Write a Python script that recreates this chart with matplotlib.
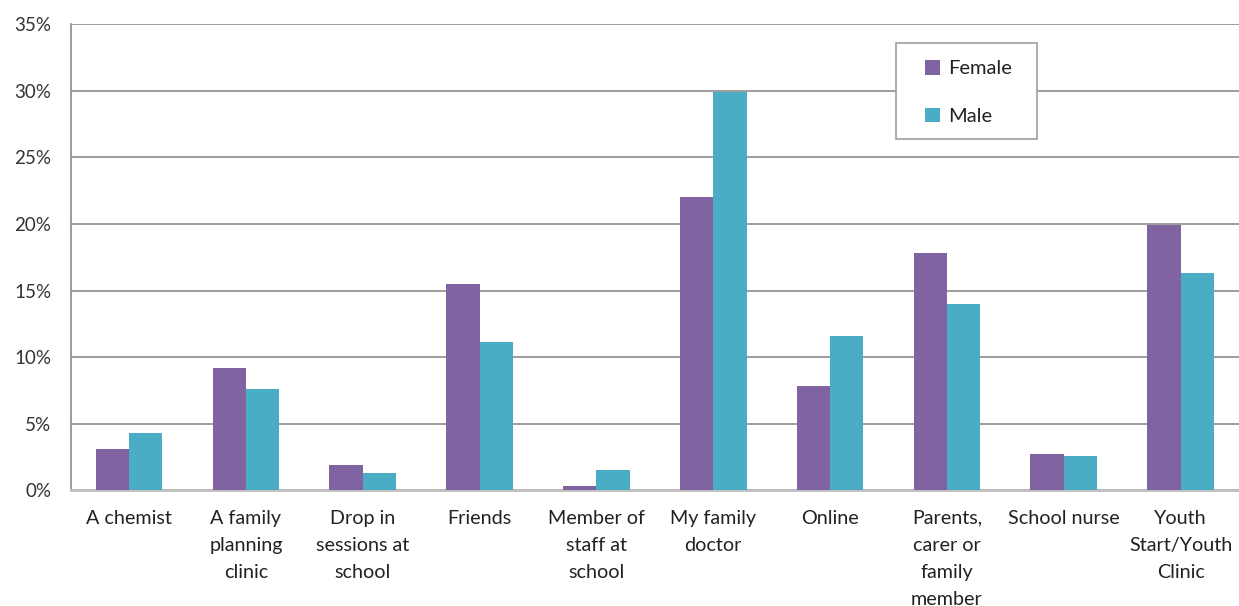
import matplotlib
matplotlib.use("Agg")
import matplotlib.pyplot as plt
import numpy as np
from matplotlib.patches import Rectangle
from matplotlib.ticker import FuncFormatter, MultipleLocator

plt.rcParams['font.family'] = ['Lato', 'DejaVu Sans']

categories = [
    "A chemist",
    "A family\nplanning\nclinic",
    "Drop in\nsessions at\nschool",
    "Friends",
    "Member of\nstaff at\nschool",
    "My family\ndoctor",
    "Online",
    "Parents,\ncarer or\nfamily\nmember",
    "School nurse",
    "Youth\nStart/Youth\nClinic",
]
female = [3.1, 9.2, 1.9, 15.5, 0.35, 22.0, 7.8, 17.8, 2.7, 19.9]
male = [4.3, 7.6, 1.3, 11.1, 1.5, 29.9, 11.6, 14.0, 2.6, 16.3]

FEMALE_COLOR = "#8064A2"
MALE_COLOR = "#4BACC6"

W, H = 1239, 606
fig = plt.figure(figsize=(W / 100, H / 100), dpi=100)
ax = fig.add_axes([0.057, 0.191, 0.943, 0.769])

x = np.arange(len(categories))
w = 0.285
ax.bar(x - w / 2, female, width=w, color=FEMALE_COLOR, label="Female", zorder=3)
ax.bar(x + w / 2, male, width=w, color=MALE_COLOR, label="Male", zorder=3)

ax.set_xlim(-0.5, len(categories) - 0.5)
ax.set_ylim(0, 35)
ax.yaxis.set_major_locator(MultipleLocator(5))
ax.yaxis.set_major_formatter(FuncFormatter(lambda v, p: f"{v:.0f}%"))
ax.grid(axis="y", color="#8C8C8C", linewidth=1.2, zorder=0)
ax.set_axisbelow(True)

ax.set_xticks(x)
ax.set_xticklabels(categories, linespacing=1.72, va="top")
ax.tick_params(axis="x", length=0, pad=14, labelsize=14.2, colors="#222222")
ax.tick_params(axis="y", length=0, pad=14, labelsize=13.5, colors="#333333")

for side in ("top", "right"):
    ax.spines[side].set_visible(False)
ax.spines["left"].set_color("#8C8C8C")
ax.spines["left"].set_linewidth(1.2)
ax.spines["bottom"].set_color("#BFBFBF")
ax.spines["bottom"].set_linewidth(2)

# legend frame drawn as a fixed-size box, entries placed inside it
box_l, box_t, box_r, box_b = 896, 43, 1037, 139
frame = Rectangle(
    (box_l / W, 1 - box_b / H), (box_r - box_l) / W, (box_b - box_t) / H,
    transform=fig.transFigure, facecolor="white", edgecolor="#A0A0A0",
    linewidth=1.2, zorder=5, clip_on=False)
ax.add_artist(frame)

leg = ax.legend(
    loc="upper left",
    bbox_to_anchor=(925 / W, 1 - 60 / H),
    bbox_transform=fig.transFigure,
    frameon=False,
    fontsize=14.5,
    handlelength=0.75,
    handleheight=0.75,
    handletextpad=0.4,
    labelspacing=1.5,
    borderpad=0,
    borderaxespad=0,
)
leg.set_zorder(6)
for t in leg.get_texts():
    t.set_color("#222222")

fig.savefig("out.png", dpi=100, facecolor="white")
